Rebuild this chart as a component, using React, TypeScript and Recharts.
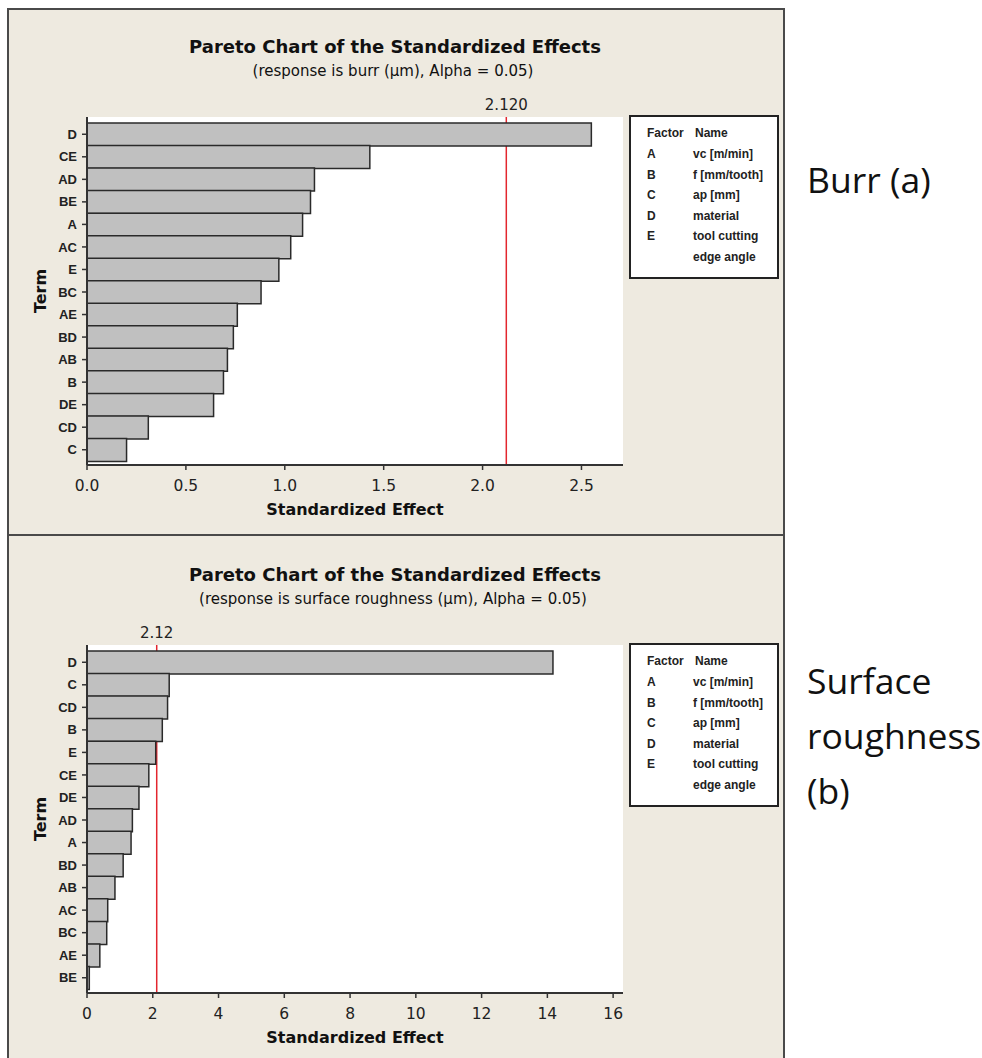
import React from 'react'
import { BarChart, Bar, XAxis, YAxis, CartesianGrid, ReferenceLine, Label } from 'recharts'

// Pareto of standardized effects, (a) burr and (b) surface roughness
const burrTerms = ['D', 'CE', 'AD', 'BE', 'A', 'AC', 'E', 'BC', 'AE', 'BD', 'AB', 'B', 'DE', 'CD', 'C']
const burrEffects = [2.55, 1.43, 1.15, 1.13, 1.09, 1.03, 0.97, 0.88, 0.76, 0.74, 0.71, 0.69, 0.64, 0.31, 0.2]
const burrTicks = [0, 0.5, 1, 1.5, 2, 2.5]

const roughTerms = ['D', 'C', 'CD', 'B', 'E', 'CE', 'DE', 'AD', 'A', 'BD', 'AB', 'AC', 'BC', 'AE', 'BE']
const roughEffects = [14.17, 2.5, 2.45, 2.29, 2.09, 1.88, 1.58, 1.38, 1.34, 1.1, 0.85, 0.63, 0.6, 0.39, 0.07]
const roughTicks = [0, 2, 4, 6, 8, 10, 12, 14, 16]

const critical = 2.12

const factorCodes = ['A', 'B', 'C', 'D', 'E', '']
const factorNames = ['vc [m/min]', 'f [mm/tooth]', 'ap [mm]', 'material', 'tool cutting', 'edge angle']

const panelBg = '#eeeae0'
const ink = '#222'
const tahoma = '"DejaVu Sans", Verdana, sans-serif'
const arial = '"Liberation Sans", Arial, sans-serif'

interface PanelProps {
  offsetY: number
  subtitle: string
  terms: string[]
  effects: number[]
  maxX: number
  ticks: number[]
  decimals: number
  critLabel: string
  side: string[]
  sideTop: number
  last?: boolean
}

function FactorBox() {
  return (
    <div
      style={{
        position: 'absolute', left: 629, top: 115, width: 150, height: 164, boxSizing: 'border-box',
        border: '2px solid #222', background: '#fff', fontFamily: arial, fontWeight: 700, fontSize: 12, color: ink,
      }}
    >
      <div style={{ position: 'absolute', left: 16, top: 7, lineHeight: '18px' }}>Factor</div>
      <div style={{ position: 'absolute', left: 64, top: 7, lineHeight: '18px' }}>Name</div>
      {factorNames.map((name, i) => (
        <React.Fragment key={name}>
          <div style={{ position: 'absolute', left: 16, top: 28 + i * 20.5, lineHeight: '18px' }}>{factorCodes[i]}</div>
          <div style={{ position: 'absolute', left: 62, top: 28 + i * 20.5, lineHeight: '18px' }}>{name}</div>
        </React.Fragment>
      ))}
    </div>
  )
}

function ParetoPanel({ offsetY, subtitle, terms, effects, maxX, ticks, decimals, critLabel, side, sideTop, last }: PanelProps) {
  const data = terms.map((term, i) => ({ term, effect: effects[i] }))
  return (
    <div style={{ position: 'absolute', left: 0, top: offsetY, width: 982, height: 537 }}>
      <div
        style={{
          position: 'absolute', left: 7, top: 8, width: 778, height: 528, boxSizing: 'border-box',
          background: panelBg, border: '2px solid #4a4a4a', borderTop: last ? 'none' : '2px solid #4a4a4a',
        }}
      />
      <div style={{ position: 'absolute', left: 7, width: 776, top: 36, textAlign: 'center', fontFamily: tahoma, fontWeight: 700, fontSize: 18, lineHeight: '21px', color: '#111' }}>
        Pareto Chart of the Standardized Effects
      </div>
      <div style={{ position: 'absolute', left: 7, width: 772, top: 62, textAlign: 'center', fontFamily: tahoma, fontSize: 15, lineHeight: '18px', color: '#111' }}>
        {subtitle}
      </div>
      <div style={{ position: 'absolute', left: 0, top: 0 }}>
        <BarChart
          width={640}
          height={537}
          data={data}
          layout="vertical"
          barCategoryGap={0}
          margin={{ top: 117, right: 17, bottom: 42, left: 47 }}
        >
          <CartesianGrid fill="#fff" horizontal={false} vertical={false} />
          <XAxis
            type="number"
            domain={[0, maxX]}
            ticks={ticks}
            height={30}
            tickSize={5}
            tickMargin={10}
            tickFormatter={(v: number) => v.toFixed(decimals)}
            tick={{ fontSize: 15.5, fill: ink, fontFamily: tahoma }}
            axisLine={{ stroke: '#333', strokeWidth: 2 }}
            tickLine={{ stroke: '#333', strokeWidth: 1.5 }}
          >
            <Label value="Standardized Effect" position="bottom" offset={9} style={{ fontFamily: tahoma, fontWeight: 700, fontSize: 16, fill: '#111' }} />
          </XAxis>
          <XAxis xAxisId="top" orientation="top" type="number" domain={[0, maxX]} height={0} tick={false} tickLine={false} axisLine={{ stroke: '#333', strokeWidth: 2 }} />
          <YAxis
            type="category"
            dataKey="term"
            width={40}
            padding={{ top: 6, bottom: 4 }}
            tickSize={5}
            tickMargin={5}
            tick={{ fontSize: 13, fill: ink, fontFamily: arial, fontWeight: 700 }}
            axisLine={{ stroke: '#333', strokeWidth: 2 }}
            tickLine={{ stroke: '#333', strokeWidth: 1.5 }}
          >
            <Label value="Term" angle={-90} position="left" offset={7} style={{ textAnchor: 'middle', fontFamily: tahoma, fontWeight: 700, fontSize: 16, fill: '#111' }} />
          </YAxis>
          <YAxis yAxisId="r" orientation="right" type="category" dataKey="term" width={0} tick={false} tickLine={false} axisLine={{ stroke: '#333', strokeWidth: 2 }} />
          <ReferenceLine x={critical} stroke="#e3262e" strokeWidth={1.5} zIndex={-10}>
            <Label value={critLabel} position="top" offset={7} style={{ fontFamily: tahoma, fontSize: 15, fill: ink }} />
          </ReferenceLine>
          <Bar dataKey="effect" fill="#c0c0c0" stroke="#2a2a2a" strokeWidth={1.5} isAnimationActive={false} />
        </BarChart>
      </div>
      <FactorBox />
      <div style={{ position: 'absolute', left: 807, top: sideTop, fontFamily: '"Open Sans", sans-serif', fontSize: 35.5, lineHeight: '55px', color: '#111' }}>
        {side.map((line) => (
          <div key={line}>{line}</div>
        ))}
      </div>
    </div>
  )
}

export default function App() {
  return (
    <div style={{ position: 'absolute', left: 0, top: 0, width: 982, height: 1058, overflow: 'hidden', background: '#fff' }}>
      <ParetoPanel
        offsetY={0}
        subtitle="(response is burr (μm), Alpha = 0.05)"
        terms={burrTerms}
        effects={burrEffects}
        maxX={2.71}
        ticks={burrTicks}
        decimals={1}
        critLabel="2.120"
        side={['Burr (a)']}
        sideTop={152}
      />
      <ParetoPanel
        offsetY={528}
        subtitle="(response is surface roughness (μm), Alpha = 0.05)"
        terms={roughTerms}
        effects={roughEffects}
        maxX={16.3}
        ticks={roughTicks}
        decimals={0}
        critLabel="2.12"
        side={['Surface', 'roughness', '(b)']}
        sideTop={125}
        last
      />
    </div>
  )
}
